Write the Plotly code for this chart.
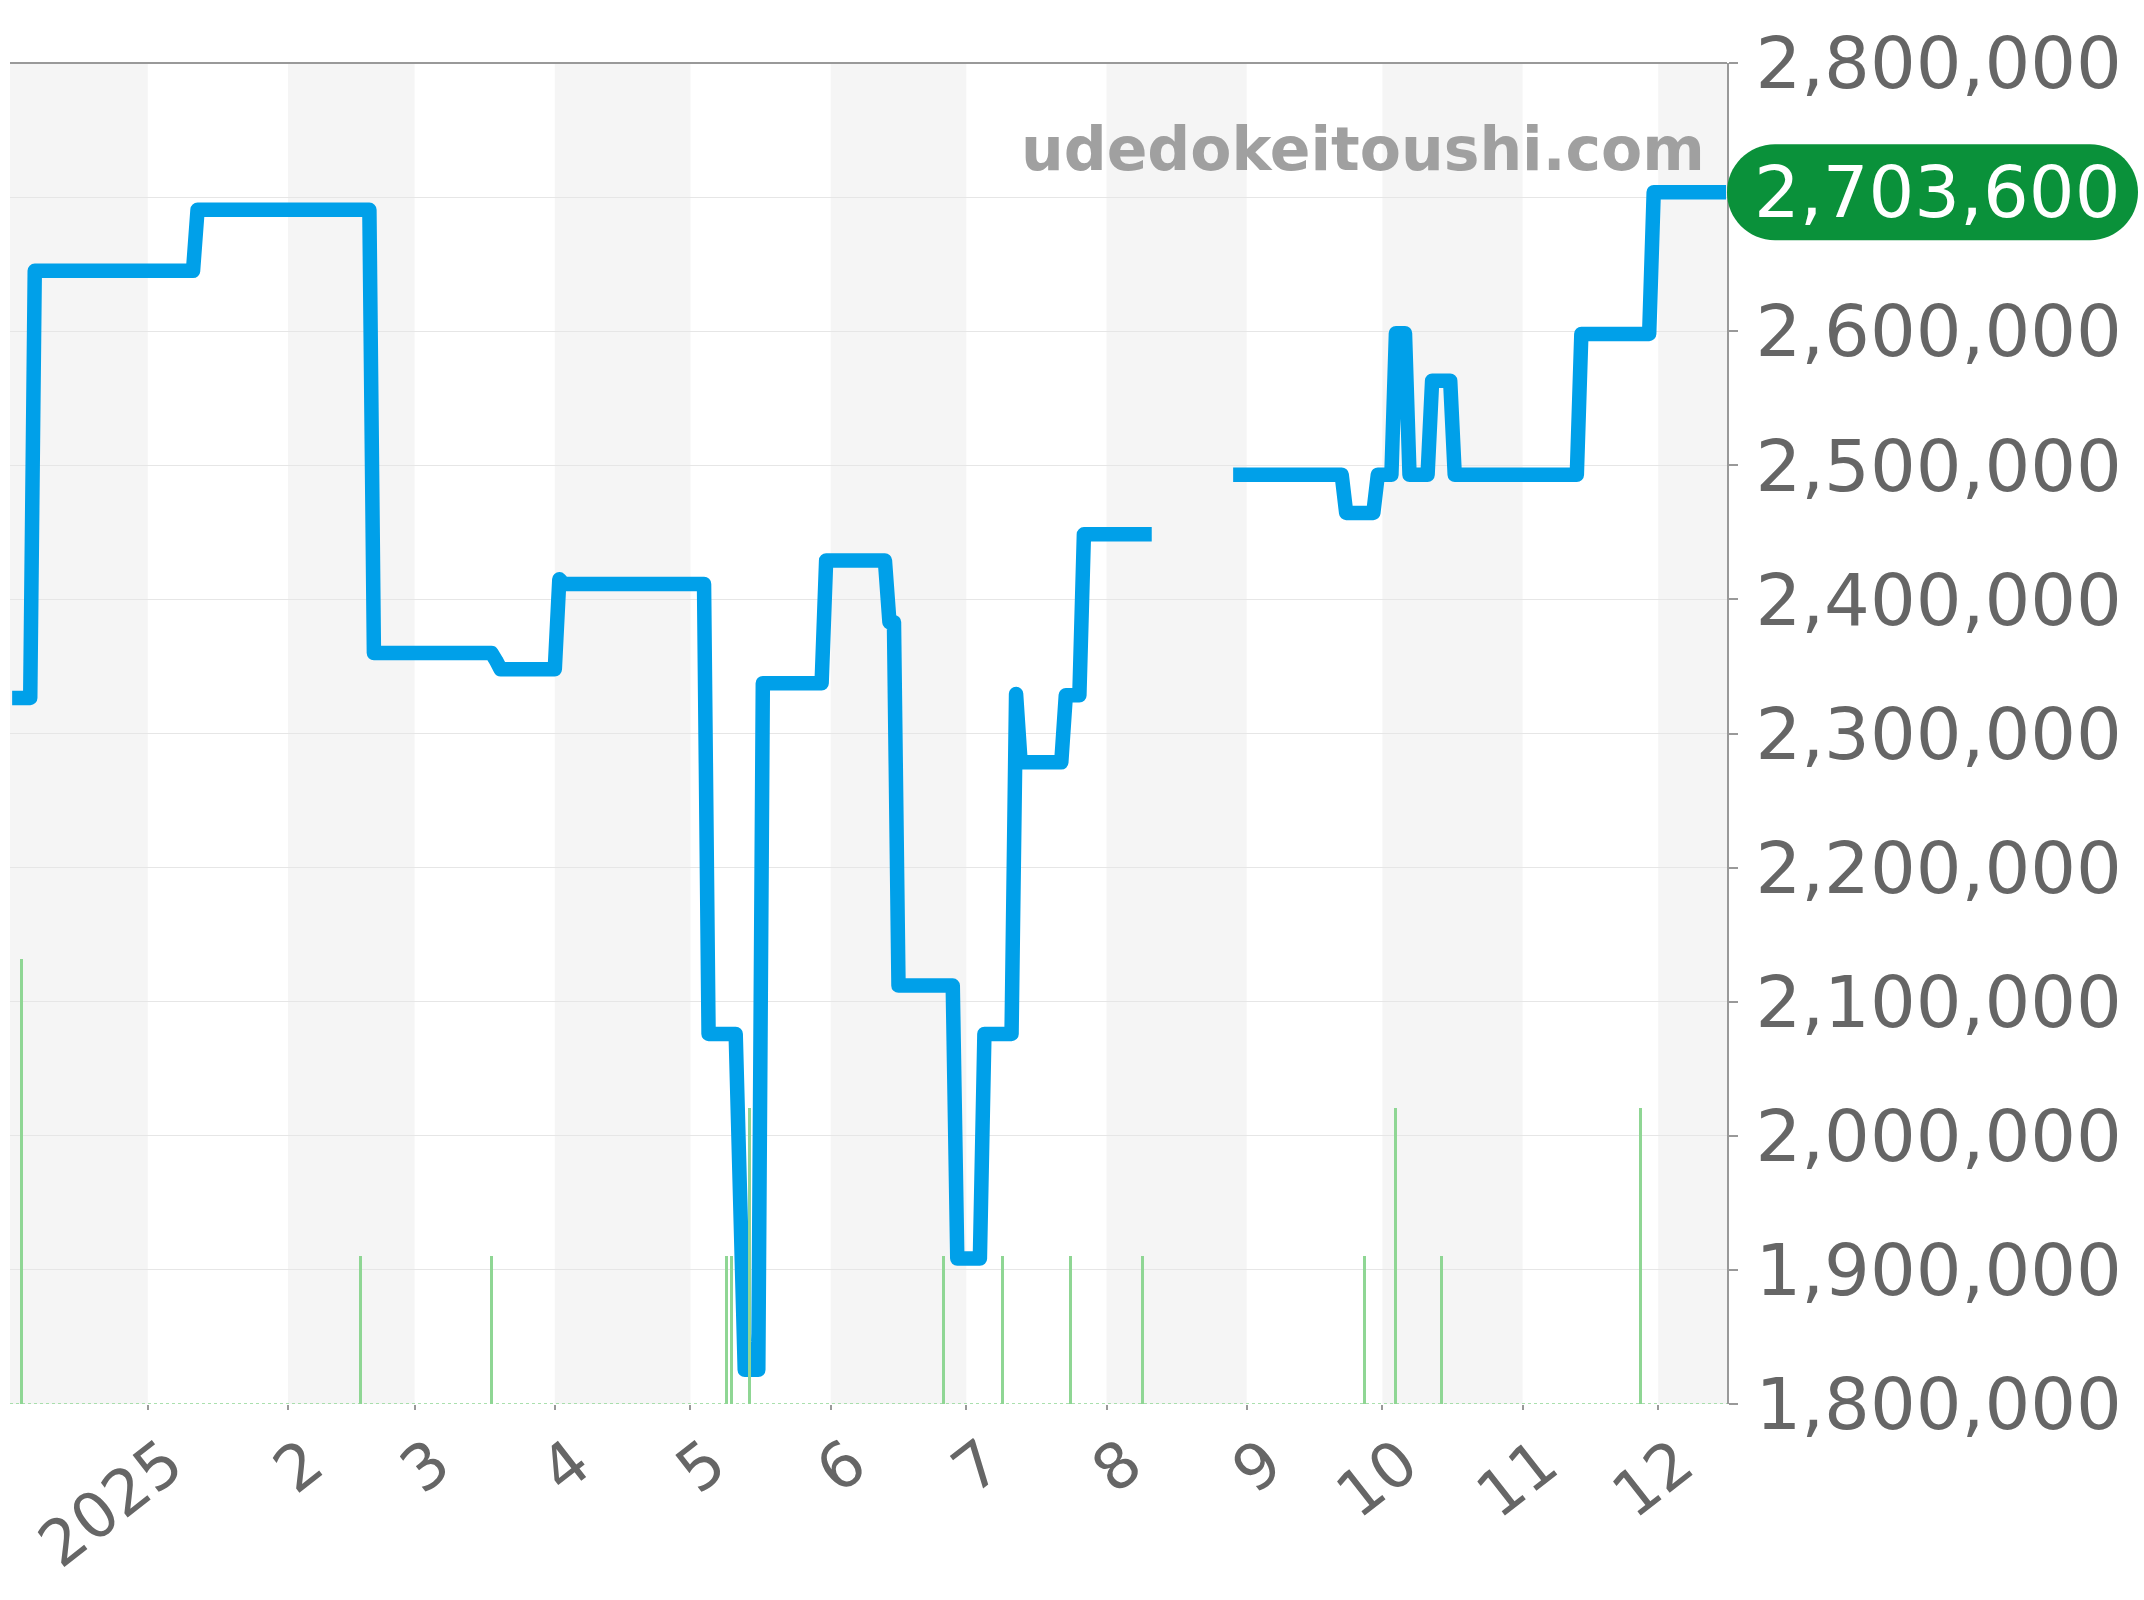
import plotly.graph_objects as go

# ---- data ----
price_dates = [
    "2024-12-02", "2024-12-06", "2024-12-07", "2025-01-11", "2025-01-12",
    "2025-02-19", "2025-02-20", "2025-03-18", "2025-03-19", "2025-03-20",
    "2025-04-01", "2025-04-02", "2025-04-03", "2025-05-04", "2025-05-05",
    "2025-05-11", "2025-05-13", "2025-05-16", "2025-05-17", "2025-05-30",
    "2025-05-31", "2025-06-13", "2025-06-14", "2025-06-15", "2025-06-16",
    "2025-06-28", "2025-06-29", "2025-07-04", "2025-07-05", "2025-07-11",
    "2025-07-12", "2025-07-13", "2025-07-22", "2025-07-23", "2025-07-26",
    "2025-07-27", "2025-08-11", "2025-08-12", "2025-08-29", "2025-09-22",
    "2025-09-23", "2025-09-29", "2025-09-30", "2025-10-03", "2025-10-04",
    "2025-10-06", "2025-10-07", "2025-10-11", "2025-10-12", "2025-10-16",
    "2025-10-17", "2025-11-13", "2025-11-14", "2025-11-29", "2025-11-30",
    "2025-12-16",
]
price_values = [
    2326500, 2326500, 2645000, 2645000, 2690500,
    2690500, 2360000, 2360000, 2354500, 2348000,
    2348000, 2415000, 2411500, 2411500, 2076000,
    2076000, 1825500, 1825500, 2337500, 2337500,
    2429000, 2429000, 2383000, 2383000, 2112000,
    2112000, 1908500, 1908500, 2076000, 2076000,
    2329500, 2278500, 2278500, 2328500, 2328500,
    2448500, 2448500, None, 2493000, 2493000,
    2464500, 2464500, 2493000, 2493000, 2598500,
    2598500, 2493000, 2493000, 2563000, 2563000,
    2493000, 2493000, 2598000, 2598000, 2703600,
    2703600,
]

count_dates = [
    "2024-12-04", "2025-02-17", "2025-03-18", "2025-05-09", "2025-05-10",
    "2025-05-14", "2025-06-26", "2025-07-09", "2025-07-24", "2025-08-09",
    "2025-09-27", "2025-10-04", "2025-10-14", "2025-11-27",
]
count_values = [3, 1, 1, 1, 1, 2, 1, 1, 1, 1, 1, 2, 1, 2]

tick_dates = [
    "2025-01-01", "2025-02-01", "2025-03-01", "2025-04-01", "2025-05-01",
    "2025-06-01", "2025-07-01", "2025-08-01", "2025-09-01", "2025-10-01",
    "2025-11-01", "2025-12-01",
]
tick_labels = ["2025", "2", "3", "4", "5", "6", "7", "8", "9", "10", "11", "12"]

band_months = [
    ("2024-11-01", "2025-01-01"), ("2025-02-01", "2025-03-01"),
    ("2025-04-01", "2025-05-01"), ("2025-06-01", "2025-07-01"),
    ("2025-08-01", "2025-09-01"), ("2025-10-01", "2025-11-01"),
    ("2025-12-01", "2026-01-01"),
]

y_ticks = [1800000, 1900000, 2000000, 2100000, 2200000, 2300000,
           2400000, 2500000, 2600000, 2700000, 2800000]
# the 2,700,000 label sits under the latest-price badge in the reference
y_tick_labels = ["1,800,000", "1,900,000", "2,000,000", "2,100,000", "2,200,000",
                 "2,300,000", "2,400,000", "2,500,000", "2,600,000", "", "2,800,000"]

x_range = ["2024-12-01 12:40", "2025-12-16 05:00"]
y_range = [1800000, 2800000]
y2_range = [0, 9.05]

watermark = "udedokeitoushi.com"
last_price = price_values[-1]

FONT = "DejaVu Sans"
BLUE = "#00a0e9"
GREEN_BAR = "#8fd694"
PILL = "#0a913a"

fig = go.Figure()

fig.add_trace(go.Bar(
    x=count_dates, y=count_values, yaxis="y2",
    width=0.65 * 86400000,
    marker=dict(color=GREEN_BAR, line=dict(width=0)),
    hoverinfo="skip", showlegend=False,
))

fig.add_trace(go.Scatter(
    x=price_dates, y=price_values, mode="lines",
    line=dict(color=BLUE, width=14.5),
    connectgaps=False, showlegend=False,
))

shapes = []
for a, b in band_months:
    shapes.append(dict(type="rect", xref="x", yref="paper", x0=a, x1=b, y0=0, y1=1,
                       fillcolor="#f5f5f5", line=dict(width=0), layer="below"))
# top border
shapes.append(dict(type="line", xref="paper", yref="paper", x0=0, x1=1, y0=1, y1=1,
                   line=dict(color="#999999", width=2)))
# dashed baseline of count bars
shapes.append(dict(type="line", xref="paper", yref="y2", x0=0, x1=1, y0=0, y1=0,
                   line=dict(color=GREEN_BAR, width=1.5, dash="3px,3px")))
# pill for latest price
pill_path = ("M 48,48 L 363,48 C 389.5,48 411,26.5 411,0 C 411,-26.5 389.5,-48 363,-48 "
             "L 48,-48 C 21.5,-48 0,-26.5 0,0 C 0,26.5 21.5,48 48,48 Z")
shapes.append(dict(type="path", xref="paper", yref="y", xsizemode="pixel", ysizemode="pixel",
                   xanchor=1, yanchor=last_price, path=pill_path,
                   fillcolor=PILL, line=dict(width=0), layer="above"))

annotations = [
    dict(text=f"{last_price:,}", xref="paper", yref="y", x=1, y=last_price,
         xshift=209.5, xanchor="center", yanchor="middle", showarrow=False,
         font=dict(family=FONT, size=72, color="white")),
    dict(text=watermark, xref="paper", yref="paper", x=0.9884, y=0.9359,
         xanchor="right", yanchor="middle", showarrow=False,
         font=dict(family=FONT, size=60, color="#a0a0a0", weight="bold")),
]

fig.update_layout(
    width=2144, height=1600,
    margin=dict(l=10, r=417, t=63, b=196),
    paper_bgcolor="white", plot_bgcolor="white",
    font=dict(family=FONT, color="#666666"),
    shapes=shapes, annotations=annotations,
    bargap=0, showlegend=False,
    xaxis=dict(
        type="date", range=x_range,
        tickvals=tick_dates, ticktext=tick_labels, tickangle=-38,
        tickfont=dict(family=FONT, size=63, color="#666666"),
        ticks="outside", ticklen=5, tickwidth=2, tickcolor="#999999",
        ticklabelshift=20, ticklabelstandoff=-8, ticklabeloverflow="allow",
        showgrid=False, showline=False, zeroline=False,
    ),
    yaxis=dict(
        side="right", range=y_range, tickvals=y_ticks, ticktext=y_tick_labels,
        tickfont=dict(family=FONT, size=72, color="#666666"),
        ticks="outside", ticklen=9, tickwidth=2, tickcolor="#999999",
        ticklabelstandoff=3, ticklabeloverflow="allow",
        showline=True, linecolor="#999999", linewidth=2,
        showgrid=True, gridcolor="#e6e6e6", gridwidth=1, zeroline=False,
    ),
    yaxis2=dict(
        overlaying="y", range=y2_range, visible=False, showgrid=False,
    ),
)

post_js = (
    "document.body.style.margin='0';"
    "document.querySelectorAll('.scatterlayer .js-line').forEach(function(p){"
    "p.style.strokeLinejoin='round';});"
)

fig.write_html("out.html", post_script=post_js, config={"displayModeBar": False})
